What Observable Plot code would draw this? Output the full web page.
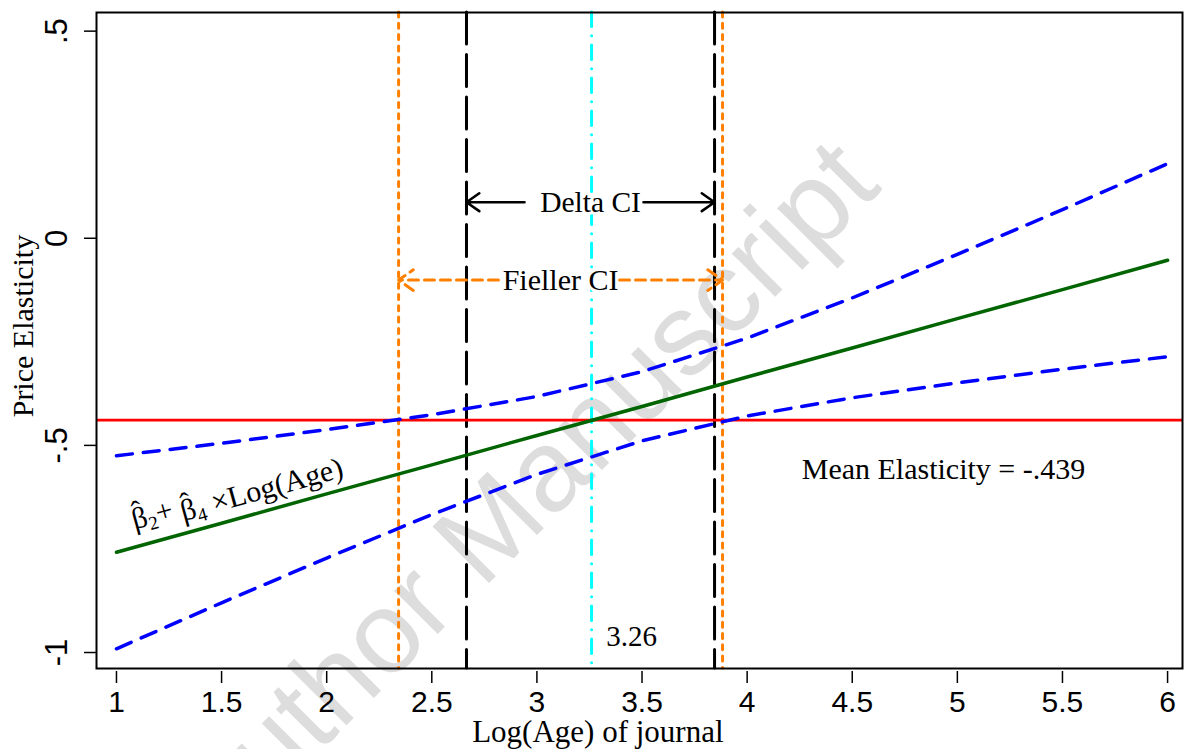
<!DOCTYPE html>
<html>
<head>
<meta charset="utf-8">
<script src="https://cdn.jsdelivr.net/npm/d3@7"></script>
<script src="https://cdn.jsdelivr.net/npm/@observablehq/plot@0.6"></script>
<style>
  html, body { margin: 0; padding: 0; background: #ffffff; }
  #chart svg { display: block; }
</style>
</head>
<body>
<div id="chart"></div>
<script>
// ---- data ----
const logAge   = [1, 1.5, 2, 2.5, 3, 3.5, 4, 4.5, 5, 5.5, 6];
const fitted   = [-0.758, -0.688, -0.617, -0.547, -0.476, -0.406, -0.335, -0.265, -0.194, -0.124, -0.053];
const upperCI  = [-0.525, -0.495, -0.462, -0.426, -0.382, -0.322, -0.241, -0.144, -0.039, 0.069, 0.180];
const lowerCI  = [-0.991, -0.880, -0.772, -0.667, -0.570, -0.489, -0.429, -0.385, -0.349, -0.316, -0.286];
const meanElasticity = -0.439;
const crossing = 3.26;
const deltaCI = [2.665, 3.845];
const fiellerCI = [2.342, 3.883];
const deltaTextGap = [2.941, 3.507];
const fiellerTextGap = [2.817, 3.393];
const deltaArrowY = 0.087;
const fiellerArrowY = -0.101;
const xTicks = [1, 1.5, 2, 2.5, 3, 3.5, 4, 4.5, 5, 5.5, 6];
const xTickLabels = ["1", "1.5", "2", "2.5", "3", "3.5", "4", "4.5", "5", "5.5", "6"];
const yTicks = [0.5, 0, -0.5, -1];
const yTickLabels = [".5", "0", "-.5", "-1"];

const serif = "'Liberation Serif', 'Times New Roman', serif";
const sans = "'Liberation Sans', Arial, sans-serif";
const curveLabel = "\u03B2\u2082+ \u03B2\u2084 \u00D7Log(Age)";

const rows = vals => logAge.map((x, i) => ({x, y: vals[i]}));
const deltaArrows = [
  {x1: deltaTextGap[0], x2: deltaCI[0], y: deltaArrowY},
  {x1: deltaTextGap[1], x2: deltaCI[1], y: deltaArrowY}
];
const fiellerArrows = [
  {x1: fiellerTextGap[0], x2: fiellerCI[0], y: fiellerArrowY},
  {x1: fiellerTextGap[1], x2: fiellerCI[1], y: fiellerArrowY}
];

const chart = Plot.plot({
  width: 1189,
  height: 749,
  marginLeft: 96,
  marginRight: 7,
  marginTop: 12,
  marginBottom: 81,
  style: {fontFamily: sans, fontSize: "30px", background: "#ffffff", color: "#000000"},
  x: {domain: [0.905, 6.071]},
  y: {domain: [-1.0386, 0.545]},
  marks: [
    // watermark
    Plot.text(["Author Manuscript"], {
      x: 2.94, y: -0.62, rotate: -45, fontSize: 116, fontFamily: sans,
      fill: "#dddddd", textAnchor: "middle", lineAnchor: "middle"
    }),
    // vertical reference lines
    Plot.ruleX(fiellerCI, {stroke: "#ff8000", strokeWidth: 3, strokeDasharray: "5,6.3", strokeLinecap: "round"}),
    Plot.ruleX(deltaCI, {stroke: "#000000", strokeWidth: 3, strokeDasharray: "32,10.5", strokeLinecap: "round"}),
    Plot.ruleX([crossing], {stroke: "#00ffff", strokeWidth: 3, strokeDasharray: "14.5,9.2,0.1,9.2", strokeLinecap: "round"}),
    // mean elasticity
    Plot.ruleY([meanElasticity], {stroke: "#ff0000", strokeWidth: 2.8}),
    // confidence band and fitted line
    Plot.line(rows(upperCI), {x: "x", y: "y", stroke: "#0000ff", strokeWidth: 3.5, strokeDasharray: "16,11", strokeLinecap: "round"}),
    Plot.line(rows(lowerCI), {x: "x", y: "y", stroke: "#0000ff", strokeWidth: 3.5, strokeDasharray: "16,11", strokeLinecap: "round"}),
    Plot.line(rows(fitted), {x: "x", y: "y", stroke: "#006400", strokeWidth: 3.5}),
    // CI arrows
    Plot.arrow(deltaArrows, {x1: "x1", x2: "x2", y1: "y", y2: "y", stroke: "#000000", strokeWidth: 2.6, headLength: 9, headAngle: 70}),
    Plot.arrow(fiellerArrows, {x1: "x1", x2: "x2", y1: "y", y2: "y", stroke: "#ff8000", strokeWidth: 3, strokeDasharray: "10,6", headLength: 9, headAngle: 70}),
    // annotation text
    Plot.text(["Delta CI"], {
      x: (deltaCI[0] + deltaCI[1]) / 2, y: deltaArrowY, fontFamily: serif, fontSize: 29.5,
      fill: "#000000", stroke: "#ffffff", strokeWidth: 6, paintOrder: "stroke"
    }),
    Plot.text(["Fieller CI"], {
      x: (fiellerCI[0] + fiellerCI[1]) / 2, y: fiellerArrowY, fontFamily: serif, fontSize: 30,
      fill: "#000000", stroke: "#ffffff", strokeWidth: 6, paintOrder: "stroke"
    }),
    Plot.text(["Mean Elasticity = -.439"], {x: 4.934, y: -0.5576, fontFamily: serif, fontSize: 30, fill: "#000000"}),
    Plot.text(["3.26"], {x: 3.45, y: -0.962, fontFamily: serif, fontSize: 29, fill: "#000000"}),
    Plot.text([curveLabel], {
      x: 1.571, y: -0.611, rotate: -15.5, fontFamily: serif, fontSize: 30, fill: "#000000"
    }),
    // frame and axes
    Plot.frame({stroke: "#000000", strokeWidth: 2}),
    Plot.axisX(xTicks, {
      tickSize: 12, tickPadding: 7, dy: 3, strokeWidth: 1.5,
      tickFormat: d => xTickLabels[xTicks.indexOf(d)], fontSize: 30, fontFamily: sans, label: null
    }),
    Plot.axisY(yTicks, {tickSize: 12, strokeWidth: 1.5, tickFormat: () => "", label: null}),
    Plot.text(yTicks, {
      y: d => d, text: (d, i) => yTickLabels[i], frameAnchor: "left", dx: -39, rotate: -90,
      textAnchor: "middle", lineAnchor: "middle",
      fontFamily: sans, fontSize: 31, fill: "#000000"
    }),
    Plot.text(["Log(Age) of journal"], {
      x: 3.29, frameAnchor: "bottom", dy: 73, textAnchor: "middle", lineAnchor: "bottom",
      fontFamily: serif, fontSize: 31, fill: "#000000"
    }),
    Plot.text(["Price Elasticity"], {
      y: -0.212, frameAnchor: "left", dx: -73, rotate: -90, textAnchor: "middle", lineAnchor: "middle",
      fontFamily: serif, fontSize: 30, fill: "#000000"
    })
  ]
});
document.getElementById("chart").appendChild(chart);

// typeset the curve label with hats and subscripts: β̂₂ + β̂₄ × Log(Age)
d3.select(chart).selectAll("text")
  .filter(function() { return this.textContent === curveLabel; })
  .each(function() {
    const t = d3.select(this);
    t.text(null);
    const betaHat = (sub, first) => {
      t.append("tspan").attr("dy", first ? null : 5).text("\u03B2");
      t.append("tspan").attr("dx", -13).attr("dy", -7).text("\u02C6");
      t.append("tspan").attr("dx", 3).attr("dy", 12).attr("font-size", 19).text(sub);
    };
    betaHat("2", true);
    t.append("tspan").attr("dy", -5).text("+ ");
    betaHat("4", false);
    t.append("tspan").attr("dy", -5).text(" \u00D7Log(Age)");
  });
</script>
</body>
</html>
